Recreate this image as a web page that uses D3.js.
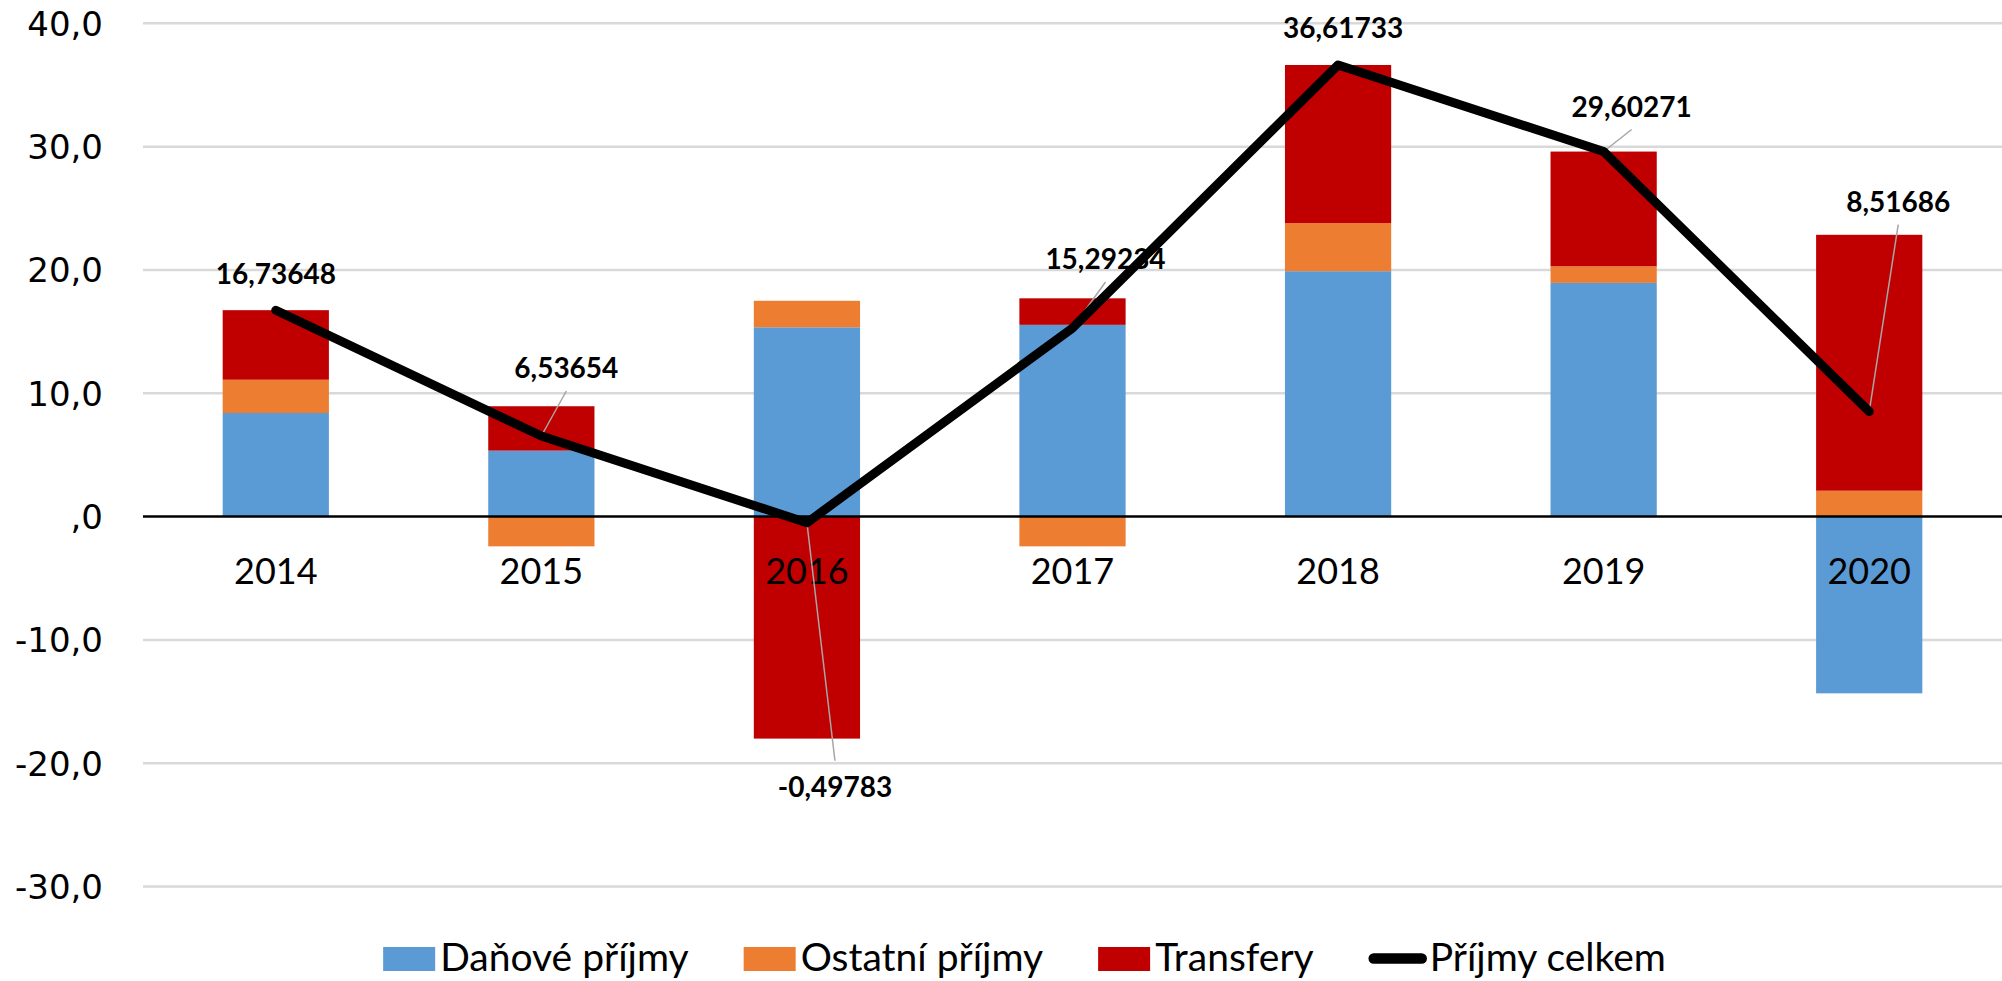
<!DOCTYPE html>
<html>
<head>
<meta charset="utf-8">
<script src="https://cdnjs.cloudflare.com/ajax/libs/d3/7.8.5/d3.min.js"></script>
<style>
  body { margin: 0; background: #fff; }
  svg { display: block; }
</style>
</head>
<body>
<script>
// data
var years = ['2014', '2015', '2016', '2017', '2018', '2019', '2020'];
var danove = [8.40, 5.35, 15.35, 15.55, 19.90, 18.95, -14.33];
var ostatni = [2.70, -2.41, 2.15, -2.41, 3.90, 1.35, 2.10];
var transfery = [5.64, 3.60, -18.00, 2.15, 12.82, 9.30, 20.75];
var celkem = [16.73648, 6.53654, -0.49783, 15.29234, 36.61733, 29.60271, 8.51686];
var yTicks = [-30, -20, -10, 0, 10, 20, 30, 40];
var seriesNames = ['Daňové příjmy', 'Ostatní příjmy', 'Transfery', 'Příjmy celkem'];

var width = 2002;
var height = 981;
var colors = ['#5B9BD5', '#ED7D31', '#C00000'];
var keys = ['danove', 'ostatni', 'transfery'];

// label placement (dx, dy from point to label baseline), leader yes/no
var labelPos = [
	[0, -26, false],
	[25, -58, true],
	[28, 274, true],
	[33, -59, true],
	[5, -27, false],
	[28, -35, true],
	[29, -200, true]
];

var rows = years.map(function(y, i) {
	return { year: y, danove: danove[i], ostatni: ostatni[i], transfery: transfery[i] };
});

var svg = d3.select('body').append('svg')
	.attr('width', width)
	.attr('height', height);

var xScale = d3.scaleBand()
	.domain(years)
	.range([143, 2002])
	.paddingInner(0.6)
	.paddingOuter(0.3);
var yScale = d3.scaleLinear()
	.domain([-30, 40])
	.range([886.6, 23.3]);

var cx = function(i) { return xScale(years[i]) + xScale.bandwidth() / 2; };

// gridlines
svg.append('g')
	.selectAll('line')
	.data(yTicks.filter(function(d) { return d !== 0; }))
	.enter()
	.append('line')
	.attr('x1', 143)
	.attr('x2', width)
	.attr('y1', function(d) { return yScale(d); })
	.attr('y2', function(d) { return yScale(d); })
	.style('stroke', '#D9D9D9')
	.style('stroke-width', 2.5);

// y labels
svg.append('g')
	.selectAll('text')
	.data(yTicks)
	.enter()
	.append('text')
	.attr('x', 103)
	.attr('y', function(d) { return yScale(d); })
	.attr('dy', '0.36em')
	.attr('text-anchor', 'end')
	.style('font-family', 'DejaVu Sans')
	.style('font-size', '34px')
	.style('fill', '#000')
	.text(function(d) {
		if (d === 0) return ',0';
		return d3.format('.1f')(d).replace('.', ',').replace('−', '-');
	});

// stacked bars
var stack = d3.stack().keys(keys).offset(d3.stackOffsetDiverging);
var layers = stack(rows);

svg.append('g')
	.selectAll('g')
	.data(layers)
	.enter()
	.append('g')
	.attr('fill', function(d, i) { return colors[i]; })
	.selectAll('rect')
	.data(function(d) { return d; })
	.enter()
	.append('rect')
	.attr('x', function(d) { return xScale(d.data.year); })
	.attr('width', xScale.bandwidth())
	.attr('y', function(d) { return yScale(Math.max(d[0], d[1])); })
	.attr('height', function(d) { return Math.abs(yScale(d[0]) - yScale(d[1])); });

// zero line
svg.append('line')
	.attr('x1', 143)
	.attr('x2', width)
	.attr('y1', yScale(0))
	.attr('y2', yScale(0))
	.style('stroke', '#000')
	.style('stroke-width', 2.5);

// category labels
svg.append('g')
	.selectAll('text')
	.data(years)
	.enter()
	.append('text')
	.attr('x', function(d, i) { return cx(i); })
	.attr('y', 584)
	.attr('text-anchor', 'middle')
	.style('font-family', 'Lato')
	.style('font-size', '36px')
	.style('fill', '#000')
	.text(function(d) { return d; });

// leader lines
svg.append('g')
	.selectAll('line')
	.data(celkem)
	.enter()
	.filter(function(d, i) { return labelPos[i][2]; })
	.append('line')
	.attr('x1', function(d, i) { return cx(celkem.indexOf(d)); })
	.attr('y1', function(d) { return yScale(d); })
	.attr('x2', function(d) { var i = celkem.indexOf(d); return cx(i) + labelPos[i][0]; })
	.attr('y2', function(d) {
		var i = celkem.indexOf(d);
		var by = yScale(d) + labelPos[i][1];
		return labelPos[i][1] > 0 ? by - 36 : by + 13;
	})
	.style('stroke', '#A6A6A6')
	.style('stroke-width', 1.5);

// total line
var line = d3.line()
	.x(function(d, i) { return cx(i); })
	.y(function(d) { return yScale(d); });
svg.append('path')
	.datum(celkem)
	.attr('d', line)
	.style('fill', 'none')
	.style('stroke', '#000')
	.style('stroke-width', 9)
	.style('stroke-linejoin', 'round')
	.style('stroke-linecap', 'round');

// data labels
svg.append('g')
	.selectAll('text')
	.data(celkem)
	.enter()
	.append('text')
	.attr('x', function(d, i) { return cx(i) + labelPos[i][0]; })
	.attr('y', function(d, i) { return yScale(d) + labelPos[i][1]; })
	.attr('text-anchor', 'middle')
	.style('font-family', 'Lato')
	.style('font-weight', 'bold')
	.style('font-size', '28px')
	.style('fill', '#000')
	.text(function(d) { return String(d).replace('.', ','); });

// legend
var legend = svg.append('g');
var lx = 0;
seriesNames.forEach(function(name, i) {
	var item = legend.append('g').attr('transform', 'translate(' + lx + ',0)');
	if (i < 3) {
		item.append('rect')
			.attr('x', 0)
			.attr('y', 947)
			.attr('width', 52)
			.attr('height', 24)
			.attr('fill', colors[i]);
	} else {
		item.append('line')
			.attr('x1', 5)
			.attr('x2', 53)
			.attr('y1', 958.5)
			.attr('y2', 958.5)
			.style('stroke', '#000')
			.style('stroke-width', 10.5)
			.style('stroke-linecap', 'round');
	}
	var t = item.append('text')
		.attr('x', i < 3 ? 57 : 61)
		.attr('y', 971)
		.style('font-family', 'Lato')
		.style('font-size', '39px')
		.style('fill', '#000')
		.text(name);
	lx += (i < 3 ? 57 : 61) + t.node().getComputedTextLength() + 55;
});
var lw = lx - 55;
legend.attr('transform', 'translate(' + (1024.5 - lw / 2) + ',0)');
</script>
</body>
</html>
